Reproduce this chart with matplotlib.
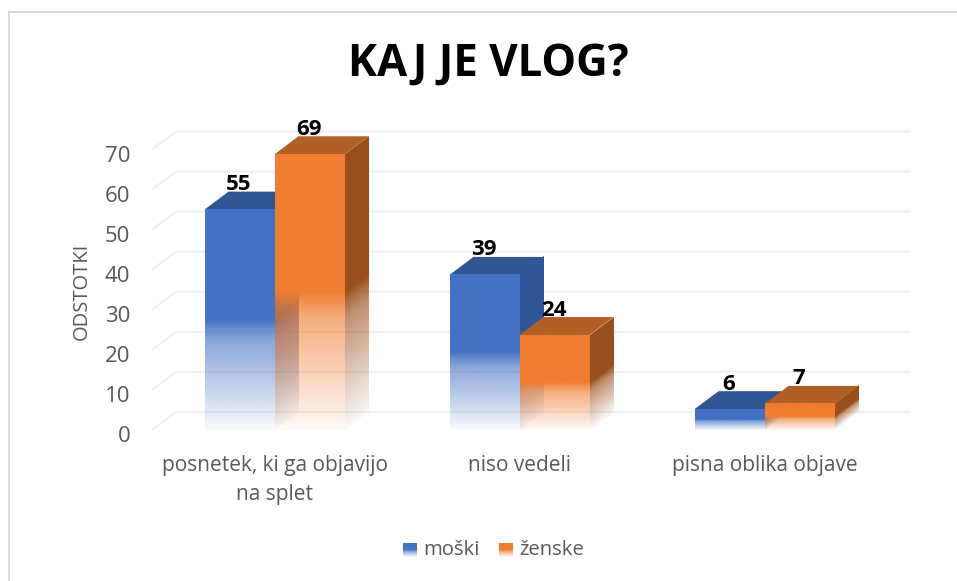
import numpy as np
import matplotlib
matplotlib.use('Agg')
import matplotlib.pyplot as plt
from matplotlib.lines import Line2D
from matplotlib.patches import Polygon
from matplotlib.transforms import Affine2D, ScaledTranslation
from matplotlib.colors import to_rgb

kategorije = ['posnetek, ki ga objavijo\nna splet', 'niso vedeli', 'pisna oblika objave']
moski = [55, 38.7, 5.2]  # visina stolpcev odcitana s slike
zenske = [68.8, 23.7, 6.5]
moski_oznake = ['55', '39', '6']
zenske_oznake = ['69', '24', '7']
y_ticks = [0, 10, 20, 30, 40, 50, 60, 70]

W, H = 957, 581
SIRINA = 70 / 245  # sirina stolpca
DX = 24 / 245  # globina 3d
DY = 18 / 4.007

plt.rcParams['font.family'] = ['Open Sans', 'DejaVu Sans']
siva = '#595959'

fig = plt.figure(figsize=(W / 100, H / 100), dpi=100)
ax = fig.add_axes([152 / W, (H - 430) / H, 735 / W, 280.5 / H])
px = Affine2D().scale(1 / W, -1 / H).translate(0, 1) + fig.transFigure  # koordinate v pikslih


def ploskev(p0, p1, p3, barva, trans, z):
    # p0 spodaj levo, p1 spodaj desno, p3 zgoraj levo; spodnja polovica pojema
    v = np.linspace(0, 1, 256)
    a = np.interp(v, [0, 0.4, 0.46, 0.5, 1], [0.04, 0.62, 0.82, 1, 1])
    img = np.ones((256, 2, 4))
    img[:, :, :3] = to_rgb(barva)
    img[:, 0, 3] = a
    img[:, 1, 3] = a
    m = Affine2D.from_values(p1[0] - p0[0], p1[1] - p0[1], p3[0] - p0[0], p3[1] - p0[1], p0[0], p0[1])
    im = ax.imshow(img, extent=(0, 1, 0, 1), origin='lower', aspect='auto',
                   interpolation='bilinear', zorder=z, clip_on=False)
    im.set_transform(m + trans)


def stolpec(x, v, barva, stran, vrh, z):
    t = ax.transData
    ploskev((x + SIRINA, 0), (x + SIRINA + DX, DY), (x + SIRINA, v), stran, t, z)
    ax.add_patch(Polygon([(x, v), (x + SIRINA, v), (x + SIRINA + DX, v + DY), (x + DX, v + DY)],
                         facecolor=vrh, edgecolor='none', clip_on=False, zorder=z))
    ploskev((x, 0), (x + SIRINA, 0), (x, v), barva, t, z + 0.1)


# mreza
for v in y_ticks:
    ax.plot([-0.5, -0.5 + DX, 2.5 + DX], [v, v + DY, v + DY], color='#EFEFEF', lw=1.5,
            clip_on=False, zorder=1, solid_capstyle='butt')

for i in range(3):
    stolpec(i - SIRINA, moski[i], '#4472C4', '#2F5597', '#315592', 2 + i)
    stolpec(i, zenske[i], '#F07D31', '#9A4F1C', '#B25F25', 2.5 + i)
    ax.text(i - SIRINA / 2 - 0.004, moski[i] + 25 / 4.007, moski_oznake[i], ha='center', va='center',
            fontsize=16, fontweight='bold', color='black', zorder=10)
    ax.text(i + SIRINA / 2 - 0.004, zenske[i] + 25 / 4.007, zenske_oznake[i], ha='center', va='center',
            fontsize=16, fontweight='bold', color='black', zorder=10)

ax.set_xlim(-0.5, 2.5)
ax.set_ylim(0, 70)
ax.set_xticks(range(3))
ax.set_xticklabels(kategorije, fontsize=15, color=siva, linespacing=1.47)
ax.set_yticks(y_ticks)
ax.set_yticklabels([str(v) for v in y_ticks], fontsize=16, color=siva)
ax.tick_params(axis='x', length=0, pad=18.2)
ax.tick_params(axis='y', length=0, pad=15.5)
pomik = ScaledTranslation(0, -4 / 100, fig.dpi_scale_trans)
for tl in ax.get_yticklabels():
    tl.set_transform(tl.get_transform() + pomik)
for s in ax.spines.values():
    s.set_visible(False)
ax.patch.set_visible(False)

# naslov, os, okvir, legenda
fig.text(488, 64, 'KAJ JE VLOG?', transform=px, ha='center', va='center',
         fontsize=31.5, fontweight='bold', color='black')
fig.text(82, 291, 'ODSTOTKI', transform=px, rotation=90, ha='center', va='center',
         fontsize=14.5, color=siva)
fig.add_artist(Line2D([9, 9, W], [H, 12, 12], transform=px, color='#D9D9D9', lw=1.5,
                      solid_joinstyle='miter'))

ploskev((403, 557), (417, 557), (403, 543), '#4472C4', px, 10)
ploskev((499, 557), (513, 557), (499, 543), '#F07D31', px, 10)
ax.set_xlim(-0.5, 2.5)
ax.set_ylim(0, 70)
fig.text(423, 550, 'moški', transform=px, ha='left', va='center', fontsize=14.6, color=siva)
fig.text(519, 550, 'ženske', transform=px, ha='left', va='center', fontsize=14.6, color=siva)

fig.savefig('out.png', dpi=100)
